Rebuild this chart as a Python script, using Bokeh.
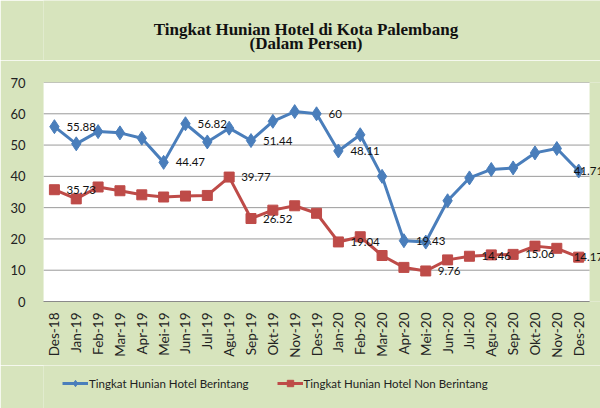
import math
from bokeh.plotting import figure
from bokeh.layouts import column
from bokeh.models import Legend, LegendItem, ColumnDataSource, Range1d, Label
from bokeh.embed import file_html
from bokeh.resources import INLINE
from bokeh.core.properties import value

months = ["Des-18", "Jan-19", "Feb-19", "Mar-19", "Apr-19", "Mei-19", "Jun-19", "Jul-19",
          "Agu-19", "Sep-19", "Okt-19", "Nov-19", "Des-19", "Jan-20", "Feb-20", "Mar-20",
          "Apr-20", "Mei-20", "Jun-20", "Jul-20", "Agu-20", "Sep-20", "Okt-20", "Nov-20", "Des-20"]

berintang = [55.88, 50.4, 54.3, 53.9, 52.2, 44.47, 56.82, 51.0, 55.4, 51.44, 57.6, 60.7, 60.0,
             48.11, 53.3, 40.0, 19.43, 19.0, 32.2, 39.5, 42.2, 42.7, 47.5, 48.9, 41.71]
non_berintang = [35.73, 32.8, 36.6, 35.4, 34.1, 33.4, 33.7, 33.9, 39.77, 26.52, 29.2, 30.6, 28.2,
                 19.04, 20.7, 14.7, 10.9, 9.76, 13.3, 14.46, 14.9, 15.06, 17.7, 17.0, 14.17]

berintang_labels = ["55.88", "", "", "", "", "44.47", "56.82", "", "", "51.44", "", "", "60",
                    "48.11", "", "", "19.43", "", "", "", "", "", "", "", "41.71"]
non_berintang_labels = ["35.73", "", "", "", "", "", "", "", "39.77", "26.52", "", "", "",
                        "19.04", "", "", "", "9.76", "", "14.46", "", "15.06", "", "", "14.17"]

series_names = ["Tingkat Hunian Hotel Berintang", "Tingkat Hunian Hotel Non Berintang"]
title_lines = ["Tingkat Hunian Hotel di Kota Palembang", "(Dalam Persen)"]
y_ticks = [0, 10, 20, 30, 40, 50, 60, 70]

BLUE = "#4A7EBB"
RED = "#BE4B48"
BG = "#D7E4BD"
W = 600
LEFT = 43

n = len(months)
xs = list(range(n))
x_lo, x_hi = -0.5, n - 0.5
y_lo, y_hi = 0, 70

offsets = [12] * (n - 1) + [-5]
src = ColumnDataSource(dict(x=xs, b=berintang, nb=non_berintang,
                            bl=berintang_labels, nbl=non_berintang_labels, off=offsets))


def bare_figure(height):
    f = figure(width=W, height=height, x_range=Range1d(0, 1), y_range=Range1d(0, 1),
               output_backend="svg", toolbar_location=None,
               x_axis_location=None, y_axis_location=None,
               background_fill_color=BG, border_fill_color=BG, min_border=0,
               min_border_left=LEFT)
    f.outline_line_color = None
    f.xgrid.grid_line_color = None
    f.ygrid.grid_line_color = None
    return f


# ---- title panel ----
tf = bare_figure(60)
for txt, yy in zip(title_lines, (31.5, 17.5)):
    tf.add_layout(Label(x=305.5 - LEFT, y=yy, x_units="screen", y_units="screen", text=txt,
                        text_align="center", text_baseline="middle",
                        text_font="Liberation Serif", text_font_size="17px",
                        text_font_style="bold", text_color="#111111"))

# ---- main chart ----
p = figure(x_range=Range1d(x_lo, n), y_range=Range1d(y_lo, y_hi), width=W, height=305,
           output_backend="svg", toolbar_location=None,
           background_fill_color=BG, border_fill_color=BG,
           min_border_left=LEFT, min_border_right=0, min_border_top=22, min_border_bottom=64)
p.outline_line_color = None
p.xgrid.grid_line_color = None
p.ygrid.grid_line_color = None

p.quad(left=[x_lo], right=[x_hi], bottom=[y_lo], top=[y_hi], fill_color="white", line_color=None)
p.segment(x0=[x_lo] * len(y_ticks), x1=[x_hi] * len(y_ticks), y0=y_ticks, y1=y_ticks,
          line_color="#9A9A9A", line_width=1)

p.yaxis.ticker = y_ticks
p.yaxis.axis_line_color = None
p.yaxis.major_tick_line_color = None
p.yaxis.minor_tick_line_color = None
p.yaxis.major_label_text_font = "Lato"
p.yaxis.major_label_text_font_size = "13px"
p.yaxis.major_label_text_color = "#222222"
p.yaxis.major_label_standoff = 12

p.xaxis.ticker = xs
p.xaxis.major_label_overrides = {i: m for i, m in zip(xs, months)}
p.xaxis.bounds = (x_lo, x_hi)
p.xaxis.axis_line_color = "#8A8A8A"
p.xaxis.major_tick_line_color = None
p.xaxis.minor_tick_line_color = None
p.xaxis.major_label_orientation = math.pi / 2
p.xaxis.major_label_text_font = "Lato"
p.xaxis.major_label_text_font_size = "13.5px"
p.xaxis.major_label_text_color = "#222222"
p.xaxis.major_label_standoff = 5

p.line("x", "b", source=src, line_color=BLUE, line_width=3)
p.scatter("x", "b", source=src, marker="diamond", size=14, fill_color=BLUE, line_color=BLUE)
p.line("x", "nb", source=src, line_color=RED, line_width=3)
p.scatter("x", "nb", source=src, marker="square", size=10, fill_color=RED, line_color=RED)

for col_y, col_t in (("b", "bl"), ("nb", "nbl")):
    p.text(x="x", y=col_y, text=col_t, source=src, x_offset="off",
           text_baseline="middle", text_align="left", text_font=value("Lato"),
           text_font_size="11.5px", text_color="#111111")

# ---- legend panel (series drawn outside its visible range; only legend shows) ----
lf = bare_figure(43)
a1 = lf.line("x", "b", source=src, line_color=BLUE, line_width=3)
a2 = lf.scatter("x", "b", source=src, marker="diamond", size=9, fill_color=BLUE, line_color=BLUE)
b1 = lf.line("x", "nb", source=src, line_color=RED, line_width=3)
b2 = lf.scatter("x", "nb", source=src, marker="square", size=7, fill_color=RED, line_color=RED)
legend = Legend(items=[LegendItem(label=series_names[0], renderers=[a1, a2]),
                       LegendItem(label=series_names[1], renderers=[b1, b2])],
                orientation="horizontal", location=(62 - LEFT, 17),
                background_fill_alpha=0, border_line_color=None,
                margin=0, padding=0, spacing=28, glyph_width=26, glyph_height=16,
                label_standoff=1, label_text_font="Lato", label_text_font_size="11.5px",
                label_text_color="#222222")
lf.add_layout(legend, "center")

layout = column(tf, p, lf, spacing=0)

open("out.html", "w").write(file_html(layout, INLINE))
